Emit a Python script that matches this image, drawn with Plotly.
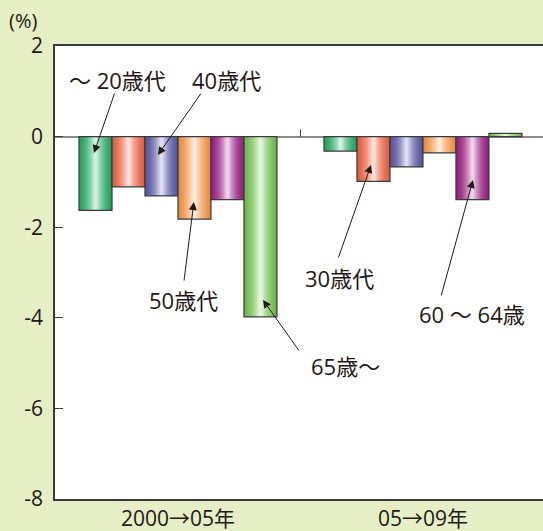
import plotly.graph_objects as go

# ---- data -------------------------------------------------------------
periods = ["2000→05年", "05→09年"]
age_groups = ["～20歳代", "30歳代", "40歳代", "50歳代", "60～64歳", "65歳～"]
change_2000_05 = [-1.63, -1.11, -1.31, -1.82, -1.39, -3.98]
change_05_09 = [-0.32, -0.99, -0.67, -0.36, -1.39, 0.07]
y_ticks = [2, 0, -2, -4, -6, -8]
y_tick_text = ["2", "0", "-2", "-4", "-6", "-8"]

# ---- styling ----------------------------------------------------------
base_colors = ["#2fae6c", "#ef6a4c", "#6262aa", "#f79c52", "#a12a8b", "#7cc65a"]
FONT = "Open Sans, Noto Sans CJK JP, sans-serif"
TEXT = "#231815"
BG = "#e5eec4"

N_STRIPES = 18
GROUP_W = 0.808
BAR_W = GROUP_W / len(age_groups)


def hex_rgb(h):
    h = h.lstrip("#")
    return [int(h[i:i + 2], 16) for i in (0, 2, 4)]


def shade(rgb, u):
    """Cylinder-like shading: darker edges, pale highlight in the centre."""
    d = abs(2 * u - 1)
    hi = 0.88 * (1 - d) ** 2.0
    dk = 0.12 * d ** 3
    out = []
    for c in rgb:
        c = c * (1 - dk)
        c = c + (255 - c) * hi
        out.append(int(round(c)))
    return "rgb({},{},{})".format(*out)


x_pos = list(range(len(periods)))
fig = go.Figure()

for i, name in enumerate(age_groups):
    vals = [change_2000_05[i], change_05_09[i]]
    start = -GROUP_W / 2 + i * BAR_W
    rgb = hex_rgb(base_colors[i])
    step = BAR_W / N_STRIPES
    for j in range(N_STRIPES):
        u = (j + 0.5) / N_STRIPES
        w = step * 1.6 if j < N_STRIPES - 1 else step
        fig.add_trace(go.Bar(
            x=x_pos, y=vals, offset=start + j * step, width=w,
            marker=dict(color=shade(rgb, u), line=dict(width=0)),
            showlegend=False, hoverinfo="skip",
        ))
    # outline of the bar
    fig.add_trace(go.Bar(
        x=x_pos, y=vals, offset=start, width=BAR_W, name=name,
        marker=dict(color="rgba(0,0,0,0)", line=dict(color="#3a3a3a", width=1.2)),
        showlegend=False,
    ))

# ---- labels with arrows ----------------------------------------------
labels = [
    # text, text x, text y, arrow tail x, tail y, head x, head y
    ("～ 20歳代", -0.245, 1.25, -0.257, 0.985, -0.343, -0.364),
    ("40歳代", 0.200, 1.25, 0.098, 0.985, -0.082, -0.406),
    ("50歳代", 0.024, -3.61, 0.024, -3.21, 0.065, -1.444),
    ("65歳～", 0.682, -5.06, 0.498, -4.755, 0.347, -3.607),
    ("30歳代", 0.661, -3.12, 0.653, -2.70, 0.788, -0.627),
    ("60 ～ 64歳", 1.200, -3.92, 1.073, -3.54, 1.204, -0.958),
]
annotations = []
for text, tx, ty, ax, ay, hx, hy in labels:
    annotations.append(dict(
        x=hx, y=hy, ax=ax, ay=ay, xref="x", yref="y", axref="x", ayref="y",
        text="", showarrow=True, arrowhead=2, arrowsize=1.6, arrowwidth=1,
        arrowcolor="#231815",
    ))
    annotations.append(dict(
        x=tx, y=ty, xref="x", yref="y", text=text, showarrow=False,
        font=dict(family=FONT, size=22, color=TEXT),
        xanchor="center", yanchor="middle",
    ))
annotations.append(dict(
    x=-0.098, y=1.057, xref="paper", yref="paper", text="(%)",
    showarrow=False, xanchor="left", yanchor="middle",
    font=dict(family=FONT, size=20, color=TEXT),
))

fig.update_layout(
    width=543, height=531,
    margin=dict(l=55, r=0, t=46, b=32),
    paper_bgcolor=BG, plot_bgcolor="white",
    barmode="overlay",
    font=dict(family=FONT, color=TEXT),
    annotations=annotations,
    shapes=[dict(
        type="line", xref="x", yref="y", x0=0.5, x1=0.5,
        ysizemode="pixel", yanchor=0, y0=0, y1=7,
        line=dict(color="#3a3a3a", width=1),
    )],
)
fig.update_xaxes(
    range=[-0.502, 1.49], tickvals=x_pos, ticktext=periods,
    showline=True, linecolor="#3a3a3a", linewidth=1.5, mirror=True,
    ticks="", showgrid=False, zeroline=False,
    tickfont=dict(family=FONT, size=21, color=TEXT),
)
fig.update_yaxes(
    range=[-8, 2], tickvals=y_ticks, ticktext=y_tick_text,
    ticks="inside", ticklen=8,
    tickcolor="#3a3a3a", showline=True, linecolor="#3a3a3a", linewidth=1.5,
    showgrid=False, zeroline=True, zerolinecolor="#8a8a8a", zerolinewidth=1.5,
    tickfont=dict(family=FONT, size=21, color=TEXT), ticklabelstandoff=6,
)

fig.write_html("out.html")
